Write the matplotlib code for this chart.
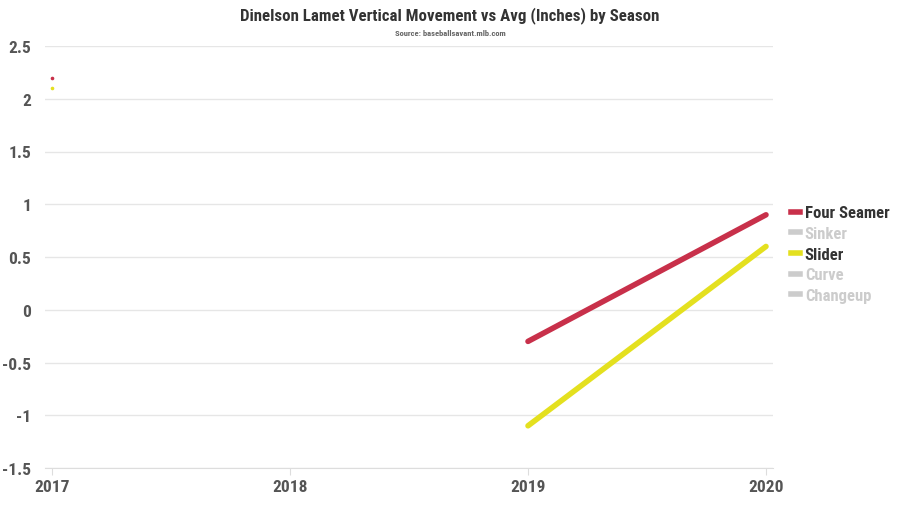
import matplotlib
matplotlib.use("Agg")
import matplotlib.pyplot as plt
from matplotlib.lines import Line2D
import numpy as np
from matplotlib import font_manager

names = {f.name for f in font_manager.fontManager.ttflist}
fam = None
for cand in ["Roboto Condensed", "Liberation Sans Narrow", "Roboto"]:
    if cand in names:
        fam = cand
        break
plt.rcParams['font.family'] = [fam, 'DejaVu Sans']

seasons = [2017, 2018, 2019, 2020]
four_seamer = [2.2, np.nan, -0.3, 0.9]
slider = [2.1, np.nan, -1.1, 0.6]
legend_labels = ["Four Seamer", "Sinker", "Slider", "Curve", "Changeup"]
visible = [True, False, True, False, False]
colors = ["#c8304a", "#cccccc", "#e4e01f", "#cccccc", "#cccccc"]

fig = plt.figure(figsize=(9, 5.06), dpi=100)
ax = fig.add_axes([45/900, 1-469/506, (773-45)/900, (469-47)/506])

ax.plot(seasons, four_seamer, color=colors[0], lw=4, solid_capstyle='round', zorder=3)
ax.plot(seasons, slider, color=colors[2], lw=4, solid_capstyle='round', zorder=3)
# single isolated points (2017) render as tiny dots
ax.plot(seasons[0], four_seamer[0], 'o', color=colors[0], ms=1.6, zorder=3)
ax.plot(seasons[0], slider[0], 'o', color=colors[2], ms=1.6, zorder=3)

ax.set_xlim(2017 - 7/238, 2020 + 7/238)
ax.set_ylim(-1.5, 2.5)
yt = [-1.5, -1, -0.5, 0, 0.5, 1, 1.5, 2, 2.5]
ax.set_yticks(yt)
ax.set_yticklabels([f"{v:g}" for v in yt])
ax.set_xticks(seasons)
ax.set_xticklabels([str(s) for s in seasons])
ax.grid(axis='y', color='#e6e6e6', lw=1)
ax.set_axisbelow(True)
for s in ['top', 'right', 'left']:
    ax.spines[s].set_visible(False)
ax.spines['bottom'].set_color('#dddddd')
ax.tick_params(axis='y', length=0, pad=10, labelsize=12.5, labelcolor='#555555')
ax.tick_params(axis='x', length=5, color='#dddddd', pad=3, labelsize=12.5, labelcolor='#555555')
for lab in ax.get_xticklabels() + ax.get_yticklabels():
    lab.set_fontweight('bold')

handles = [Line2D([], [], color=c, lw=4) for c in colors]
leg = ax.legend(handles, legend_labels, loc='upper left', bbox_to_anchor=(1.015, 0.638),
                frameon=False, handlelength=0.55, handletextpad=0.3, labelspacing=0.34,
                prop={'size': 12, 'weight': 'bold'}, borderaxespad=0)
for t, v in zip(leg.get_texts(), visible):
    t.set_color('#333333' if v else '#cccccc')

fig.text(0.5, 1-16/506, "Dinelson Lamet Vertical Movement vs Avg (Inches) by Season",
         ha='center', va='center', fontsize=12.2, fontweight='bold', color='#333333')
fig.text(0.5, 1-34/506, "Source: baseballsavant.mlb.com", ha='center', va='center',
         fontsize=6.1, fontweight='bold', color='#666666')

fig.savefig("out.png", dpi=100)
